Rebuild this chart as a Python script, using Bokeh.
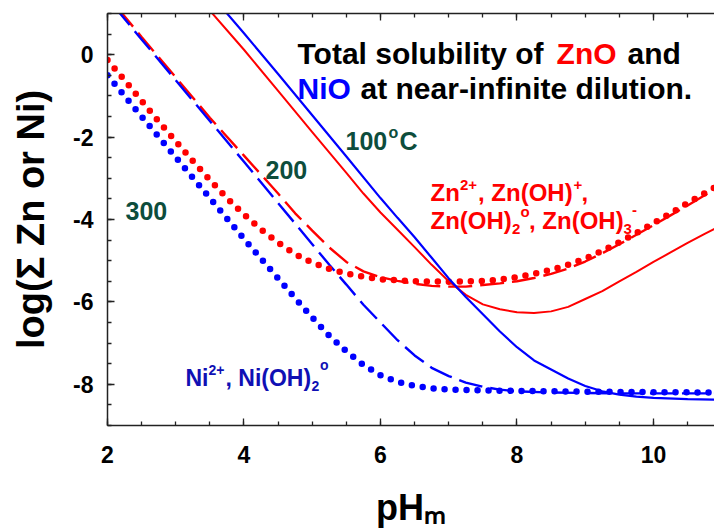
import math
from bokeh.plotting import figure
from bokeh.models import Range1d, SingleIntervalTicker, LinearAxis, Label, CustomLabelingPolicy
from bokeh.embed import file_html
from bokeh.resources import INLINE

# ZnO solubility (log total Zn, mol/kg) vs pH_m
zn100_ph = [3.5, 4.0, 4.5, 5.0, 5.5, 5.75, 6.0, 6.25, 6.5, 6.75, 7.0, 7.25, 7.5, 7.75,
            8.0, 8.25, 8.5, 8.75, 9.0, 9.25, 9.5, 9.75, 10.0, 10.25, 10.5, 10.75, 10.9]
zn100_log = [1.07, 0.12, -0.88, -1.88, -2.87, -3.37, -3.83, -4.25, -4.67, -5.1, -5.5, -5.83,
             -6.06, -6.18, -6.25, -6.27, -6.23, -6.12, -5.93, -5.74, -5.5, -5.27, -5.03,
             -4.8, -4.57, -4.35, -4.22]

zn200_ph = [2.15, 2.5, 3.0, 3.5, 4.0, 4.5, 4.75, 5.0, 5.25, 5.5, 5.75, 6.0, 6.25, 6.5, 6.75,
            7.0, 7.25, 7.5, 7.75, 8.0, 8.25, 8.5, 8.75, 9.0, 9.25, 9.5, 9.75, 10.0, 10.25,
            10.5, 10.75, 10.9]
zn200_log = [1.13, 0.43, -0.55, -1.53, -2.45, -3.37, -3.85, -4.27, -4.68, -5.03, -5.26, -5.4,
             -5.49, -5.56, -5.61, -5.63, -5.63, -5.59, -5.55, -5.5, -5.42, -5.32, -5.19,
             -5.02, -4.82, -4.6, -4.37, -4.14, -3.9, -3.66, -3.41, -3.27]

zn300_ph = [2.0, 2.25, 2.5, 2.75, 3.0, 3.25, 3.5, 3.75, 4.0, 4.25, 4.5, 4.75, 5.0, 5.25, 5.5,
            5.75, 6.0, 6.5, 7.0, 7.5, 7.75, 8.0, 8.25, 8.5, 8.75, 9.0, 9.25, 9.5, 9.75, 10.0,
            10.25, 10.5, 10.75, 10.9]
zn300_log = [-0.13, -0.62, -1.12, -1.62, -2.1, -2.58, -3.04, -3.48, -3.88, -4.24, -4.56, -4.84,
             -5.05, -5.2, -5.31, -5.39, -5.45, -5.5, -5.51, -5.49, -5.46, -5.4, -5.32, -5.22,
             -5.1, -4.95, -4.76, -4.55, -4.33, -4.09, -3.85, -3.6, -3.36, -3.22]

# NiO solubility (log total Ni, mol/kg) vs pH_m
ni100_ph = [3.7, 4.0, 4.5, 5.0, 5.5, 6.0, 6.25, 6.5, 6.75, 7.0, 7.25, 7.5, 7.75, 8.0, 8.25,
            8.5, 8.75, 9.0, 9.25, 9.5, 9.75, 10.0, 10.5, 10.9]
ni100_log = [1.1, 0.52, -0.47, -1.47, -2.47, -3.48, -3.96, -4.43, -4.93, -5.43, -5.88, -6.3,
             -6.72, -7.1, -7.42, -7.64, -7.86, -8.04, -8.17, -8.25, -8.3, -8.33, -8.36, -8.37]

ni200_ph = [2.1, 2.5, 3.0, 3.5, 4.0, 4.5, 5.0, 5.25, 5.5, 5.75, 6.0, 6.25, 6.5, 6.75, 7.0,
            7.25, 7.5, 7.75, 8.0, 8.5, 9.0, 9.5, 10.0, 10.9]
ni200_log = [1.17, 0.37, -0.62, -1.61, -2.6, -3.6, -4.6, -5.1, -5.58, -6.07, -6.5, -6.93, -7.3,
             -7.6, -7.8, -7.96, -8.06, -8.13, -8.17, -8.2, -8.21, -8.22, -8.22, -8.22]

ni300_ph = [2.0, 2.5, 3.0, 3.5, 4.0, 4.25, 4.5, 4.75, 5.0, 5.25, 5.5, 5.75, 6.0, 6.25, 6.5,
            6.75, 7.0, 7.5, 8.0, 9.0, 10.0, 10.9]
ni300_log = [-0.5, -1.5, -2.49, -3.48, -4.47, -4.95, -5.43, -5.91, -6.38, -6.82, -7.2, -7.53,
             -7.78, -7.94, -8.04, -8.1, -8.13, -8.15, -8.16, -8.18, -8.19, -8.2]

x_ticks = [2, 4, 6, 8, 10]
y_ticks = [0, -2, -4, -6, -8]

RED = "#ff0000"
BLUE = "#0000ff"
GREEN = "#0d4d3c"
NAVY = "#1010b4"
FONT = "Liberation Sans"

p = figure(width=714, height=531, output_backend="svg", toolbar_location=None,
           x_range=Range1d(2, 10.894), y_range=Range1d(-9, 1),
           min_border_left=107, min_border_right=0, min_border_top=13,
           min_border_bottom=106)
p.outline_line_color = None
p.grid.visible = False
p.background_fill_color = "white"
p.border_fill_color = "white"


def style_axis(ax, standoff, label_size="23px"):
    ax.ticker = SingleIntervalTicker(interval=2, num_minor_ticks=4)
    ax.axis_line_color = "#222222"
    ax.axis_line_width = 1.5
    ax.major_tick_line_color = "#222222"
    ax.minor_tick_line_color = "#222222"
    ax.major_tick_line_width = 1.3
    ax.minor_tick_line_width = 1.3
    ax.major_tick_in = 7
    ax.major_tick_out = 0
    ax.minor_tick_in = 4
    ax.minor_tick_out = 0
    ax.major_label_standoff = standoff
    ax.major_label_text_font = FONT
    ax.major_label_text_font_style = "bold"
    ax.major_label_text_font_size = label_size
    ax.major_label_text_color = "black"
    ax.axis_label_text_font = FONT
    ax.axis_label_text_font_style = "bold"
    ax.axis_label_text_color = "black"


xa = p.xaxis[0]
ya = p.yaxis[0]
style_axis(xa, 20)
style_axis(ya, 14)
xa.major_label_overrides = {t: str(t) for t in x_ticks}
ya.major_label_overrides = {t: str(t) for t in y_ticks}

xa.axis_label = "pH\u2098"
xa.axis_label_text_font_size = "36px"
xa.axis_label_standoff = 21

ya.axis_label = "log(\u03a3 Zn or Ni)"
ya.axis_label_text_font_size = "38px"
ya.axis_label_standoff = 18

# frame top: ticks only, no numbers
top_axis = LinearAxis()
style_axis(top_axis, 0, label_size="1px")
top_axis.major_label_policy = CustomLabelingPolicy(
    code="for (const i of indices) indices.unset(i); return indices")
p.add_layout(top_axis, "above")

# 200 C (dashed)
p.line(zn200_ph, zn200_log, line_color=RED, line_width=2.4, line_dash="24 8")
p.line(ni200_ph, ni200_log, line_color=BLUE, line_width=2.4, line_dash="24 8")
# 300 C (dotted)
p.line(zn300_ph, zn300_log, line_color=RED, line_width=6.5, line_dash="0 11", line_cap="round")
p.line(ni300_ph, ni300_log, line_color=BLUE, line_width=6.5, line_dash="0 11", line_cap="round")
# 100 C (solid)
p.line(zn100_ph, zn100_log, line_color=RED, line_width=2)
p.line(ni100_ph, ni100_log, line_color=BLUE, line_width=2.2)


def note(x, y, text, color, size):
    p.add_layout(Label(x=x, y=y, text=text, text_color=color, text_font=FONT,
                       text_font_style="bold", text_font_size=size,
                       text_align="left", text_baseline="alphabetic"))


# heading
note(4.784, 0.031, "Total solubility of", "black", "30px")
note(8.580, 0.031, "ZnO", RED, "30px")
note(9.620, 0.031, "and", "black", "30px")
note(4.784, -0.822, "NiO", BLUE, "30px")
note(5.707, -0.822, "at near-infinite dilution.", "black", "30px")

# temperatures
note(5.487, -2.097, "100", GREEN, "25px")
note(6.117, -1.880, "o", GREEN, "16px")
note(6.278, -2.097, "C", GREEN, "25px")
note(4.315, -2.799, "200", GREEN, "25px")
note(2.264, -3.790, "300", GREEN, "25px")

# zinc species
note(6.733, -3.355, "Zn", RED, "24px")
note(7.165, -3.162, "2+", RED, "15px")
note(7.429, -3.355, ", Zn(OH)", RED, "24px")
note(8.828, -3.162, "+", RED, "15px")
note(8.945, -3.355, ",", RED, "24px")
note(6.733, -4.032, "Zn(OH)", RED, "24px")
note(7.927, -4.226, "2", RED, "15px")
note(8.051, -3.815, "o", RED, "15px")
note(8.176, -4.032, ", Zn(OH)", RED, "24px")
note(9.560, -4.226, "3", RED, "15px")
note(9.685, -3.766, "-", RED, "15px")

# nickel species
note(3.143, -7.854, "Ni", NAVY, "23px")
note(3.480, -7.661, "2+", NAVY, "14px")
note(3.729, -7.854, ", Ni(OH)", NAVY, "23px")
note(4.989, -8.048, "2", NAVY, "14px")
note(5.114, -7.540, "o", NAVY, "14px")

open("out.html", "w").write(file_html(p, INLINE))
